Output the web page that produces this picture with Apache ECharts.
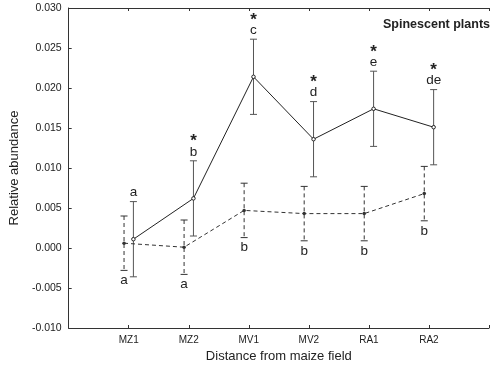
<!DOCTYPE html>
<html>
<head>
<meta charset="utf-8">
<script src="https://cdn.jsdelivr.net/npm/echarts@6/dist/echarts.min.js"></script>
<style>
  html, body { margin: 0; padding: 0; background: #fff; }
  #chart { width: 492px; height: 369px; }
</style>
</head>
<body>
<div id="chart"></div>
<script>
// ---- data ----
const categories = ['MZ1', 'MZ2', 'MV1', 'MV2', 'RA1', 'RA2'];
const spinMean = [0.0011, 0.0062, 0.0214, 0.0136, 0.0174, 0.0151];
const spinErr = [0.0047, 0.0047, 0.0047, 0.0047, 0.0047, 0.0047];
const spinLetters = ['a', 'b', 'c', 'd', 'e', 'de'];
const spinStar = [false, true, true, true, true, true];
const otherMean = [0.0006, 0.0001, 0.0047, 0.0043, 0.0043, 0.0068];
const otherErr = [0.0034, 0.0034, 0.0034, 0.0034, 0.0034, 0.0034];
const otherLetters = ['a', 'a', 'b', 'b', 'b', 'b'];
const titleText = 'Spinescent plants';
const xName = 'Distance from maize field';
const yName = 'Relative abundance';

// ---- layout helpers ----
const OFFSET = 0.078;
const FONT = 'Liberation Sans, Arial, sans-serif';
const INK = '#222';

const spinData = spinMean.map((m, i) => [i + 1 + OFFSET, m, spinErr[i]]);
const otherData = otherMean.map((m, i) => [i + 1 - OFFSET, m, otherErr[i]]);

function errRenderer(letters, stars, dashed, above) {
  return function (params, api) {
    const i = params.dataIndex;
    const x = api.value(0), m = api.value(1), e = api.value(2);
    const top = api.coord([x, m + e]);
    const bot = api.coord([x, m - e]);
    const cap = 3.5;
    const lineStyle = { stroke: dashed ? '#333' : '#555', lineWidth: 1, lineDash: dashed ? [4, 3] : null };
    const capStyle = { stroke: dashed ? '#333' : '#555', lineWidth: 1 };
    const children = [
      { type: 'line', shape: { x1: top[0], y1: top[1], x2: bot[0], y2: bot[1] }, style: lineStyle },
      { type: 'line', shape: { x1: top[0] - cap, y1: top[1], x2: top[0] + cap, y2: top[1] }, style: capStyle },
      { type: 'line', shape: { x1: bot[0] - cap, y1: bot[1], x2: bot[0] + cap, y2: bot[1] }, style: capStyle }
    ];
    if (above) {
      children.push({ type: 'text', style: { text: letters[i], x: top[0], y: top[1] - 2, align: 'center', verticalAlign: 'bottom', fontSize: 13.5, fontFamily: FONT, fill: INK } });
      if (stars[i]) {
        children.push({ type: 'text', style: { text: '*', x: top[0], y: top[1] - 19, align: 'center', verticalAlign: 'middle', fontSize: 17, fontWeight: 'bold', fontFamily: FONT, fill: INK } });
      }
    } else {
      children.push({ type: 'text', style: { text: letters[i], x: bot[0], y: bot[1] + 3, align: 'center', verticalAlign: 'top', fontSize: 13.5, fontFamily: FONT, fill: INK } });
    }
    return { type: 'group', children };
  };
}

const chart = echarts.init(document.getElementById('chart'), null, { renderer: 'canvas' });
chart.setOption({
  animation: false,
  backgroundColor: '#fff',
  title: {
    text: titleText, right: 2, top: 18, padding: 0,
    textStyle: { fontSize: 12.5, fontWeight: 'bold', fontFamily: FONT, color: INK }
  },
  grid: { left: 61, top: 8, width: 434, height: 320, containLabel: false },
  xAxis: [{
    type: 'value', min: 0, max: 7, interval: 1, position: 'bottom',
    name: xName, nameLocation: 'middle', nameGap: 21,
    nameTextStyle: { fontSize: 13, fontFamily: FONT, color: INK },
    axisLine: { show: true, onZero: false, lineStyle: { color: '#333', width: 1 } },
    axisTick: { show: true, inside: true, length: 3, lineStyle: { color: '#333' } },
    axisLabel: {
      fontSize: 10, fontFamily: FONT, color: INK, margin: 7,
      formatter: v => (v >= 1 && v <= categories.length) ? categories[v - 1] : ''
    },
    splitLine: { show: false }
  }, {
    type: 'value', min: 0, max: 7, interval: 1, position: 'top',
    axisLine: { show: true, onZero: false, lineStyle: { color: '#333', width: 1 } },
    axisTick: { show: true, inside: true, length: 3, lineStyle: { color: '#333' } },
    axisLabel: { show: false },
    splitLine: { show: false }
  }],
  yAxis: {
    type: 'value', min: -0.010, max: 0.030, interval: 0.005,
    name: yName, nameLocation: 'middle', nameGap: 42,
    nameTextStyle: { fontSize: 13, fontFamily: FONT, color: INK },
    axisLine: { show: true, onZero: false, lineStyle: { color: '#333', width: 1 } },
    axisTick: { show: true, inside: true, length: 3, lineStyle: { color: '#333' } },
    axisLabel: { fontSize: 10.5, fontFamily: FONT, color: INK, margin: 7, formatter: v => v.toFixed(3) },
    splitLine: { show: false }
  },
  series: [
    {
      type: 'custom', name: 'otherErr', data: otherData, z: 1,
      renderItem: errRenderer(otherLetters, null, true, false)
    },
    {
      type: 'custom', name: 'spinErr', data: spinData, z: 1,
      renderItem: errRenderer(spinLetters, spinStar, false, true)
    },
    {
      type: 'line', name: 'other', data: otherData.map(d => [d[0], d[1]]), z: 3,
      symbol: 'circle', symbolSize: 3.5,
      lineStyle: { color: '#333', width: 1, type: [4, 3] },
      itemStyle: { color: '#333' }
    },
    {
      type: 'line', name: 'spin', data: spinData.map(d => [d[0], d[1]]), z: 3,
      symbol: 'circle', symbolSize: 3.5,
      lineStyle: { color: '#222', width: 1 },
      itemStyle: { color: '#fff', borderColor: '#222', borderWidth: 1 }
    }
  ]
});
</script>
</body>
</html>
